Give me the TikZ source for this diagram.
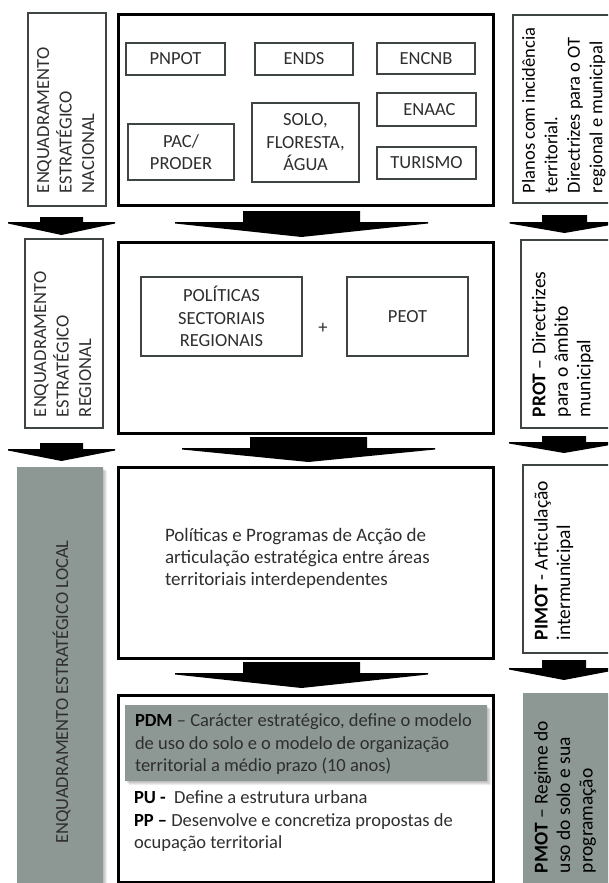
\documentclass[tikz,border=0pt]{standalone}
\usepackage{fontspec}
\setmainfont{Carlito}
\definecolor{ink}{RGB}{46,46,46}
\definecolor{edge}{RGB}{62,68,66}
\definecolor{slate}{RGB}{141,152,149}
% block arrow pointing down: centre x, shaft top, shaft half width, head base, head half width, tip
\newcommand\blockarrow[6]{%
  \fill[black] (#1-#3,#2) -- (#1+#3,#2) -- (#1+#3,#4) -- (#1+#5,#4) -- (#1+#5,#4+1.5)
    -- (#1,#6) -- (#1-#5,#4+1.5) -- (#1-#5,#4) -- (#1-#3,#4) -- cycle;}
% soft shadow to the lower right of a rectangle
\newcommand\softshadow[4]{%
  \foreach \s in {1,...,4}{\fill[black,opacity=0.07] (#1+\s,#2+\s) rectangle (#3+\s,#4+\s);}}
\begin{document}
\begin{tikzpicture}[x=1pt,y=-1pt,
  every node/.style={font=\fontsize{18.5}{22.5}\selectfont, text=ink, inner sep=0pt, outer sep=0pt},
  frame/.style={draw=black, line width=3pt},
  sidebox/.style={draw=edge, line width=1.1pt},
  itembox/.style={draw=edge, line width=1.1pt, align=center},
  shaded/.style={fill=slate, draw=none},
  sidetext/.style={rotate=90, anchor=north west, align=left},
  planttext/.style={sidetext, text=black, font=\fontsize{19.5}{22.5}\selectfont},
  bodytext/.style={anchor=north west, align=left}]
\useasboundingbox (0,0) rectangle (608,883);
\clip (0,0) rectangle (608,883);

% ---------- national level ----------
\node[sidebox, minimum width=78, minimum height=193] (natL) at (67,109.5) {};
\node[sidetext] (natLt) at (37,193) {ENQUADRAMENTO\\ESTRATÉGICO\\NACIONAL};
\node[frame, minimum width=375, minimum height=190] (nat) at (305.5,110) {};
\node[itembox, minimum width=99, minimum height=32] (pnpot) at (175.5,59) {PNPOT};
\node[itembox, minimum width=98, minimum height=32] (ends) at (304,59) {ENDS};
\node[itembox, minimum width=98, minimum height=31] (encnb) at (426,58.5) {ENCNB};
\node[itembox, minimum width=99, minimum height=33] (enaac) at (426.5,109.5) {\hspace{6pt}ENAAC};
\node[itembox, minimum width=99, minimum height=32] (turismo) at (426.5,163) {TURISMO};
\node[itembox, minimum width=106, minimum height=56] (pac) at (181,152) {PAC/\\PRODER};
\node[itembox, minimum width=107, minimum height=79] (solo) at (305.5,142.5) {SOLO,\\FLORESTA,\\ÁGUA};
\node[sidebox, minimum width=99, minimum height=188] (natR) at (562.5,109) {};
\node[sidetext, text=black] (natRt) at (522,193) {Planos com incidência\\territorial.\\Directrizes para o OT\\regional e municipal};

\blockarrow{61.5}{217}{21.5}{222}{53.5}{235}
\blockarrow{301.5}{211}{58.5}{222}{126.5}{237}
\blockarrow{564.5}{215}{22.5}{222}{55}{233}

% ---------- regional level ----------
\node[sidebox, minimum width=78, minimum height=189] (regL) at (64,333.5) {};
\node[sidetext] (regLt) at (34,417) {ENQUADRAMENTO\\ESTRATÉGICO\\REGIONAL};
\node[frame, minimum width=375, minimum height=191] (reg) at (305.5,337.5) {};
\node[itembox, minimum width=161, minimum height=79] (psr) at (221.5,316.5) {POLÍTICAS\\SECTORIAIS\\REGIONAIS};
\node (plus) at (323,328) {+};
\node[itembox, minimum width=121, minimum height=79] (peot) at (407.5,316.5) {PEOT};
\node[sidebox, minimum width=91, minimum height=188] (regR) at (566.5,334) {};
\node[planttext] (regRt) at (532,417) {\textbf{PROT} – Directrizes\\para o âmbito\\municipal};

\blockarrow{61.5}{443}{21.5}{449}{53.5}{461}
\blockarrow{308.5}{437}{58.5}{448}{126.5}{462}
\blockarrow{564}{436}{22}{442}{55}{453}

% ---------- local level ----------
\softshadow{17}{467}{103}{890}
\node[shaded, minimum width=86, minimum height=423] (locL) at (60,678.5) {};
\node[rotate=90, text height=12pt, text depth=0pt] (locLt) at (62,692) {ENQUADRAMENTO ESTRATÉGICO LOCAL};

\node[frame, minimum width=375, minimum height=191] (loc) at (305.5,562.5) {};
\node[bodytext, font=\fontsize{19}{22}\selectfont] (loct) at (165,528) {Políticas e Programas de Acção de\\articulação estratégica entre áreas\\territoriais interdependentes};
\node[sidebox, minimum width=89, minimum height=188] (locR) at (567.5,559) {};
\node[planttext] (locRt) at (534,640) {\textbf{PIMOT} - Articulação\\intermunicipal};

\blockarrow{301.5}{662}{58.5}{673}{126.5}{688}
\blockarrow{564}{660}{22}{668}{55}{680}

% ---------- municipal plans ----------
\node[frame, minimum width=375, minimum height=187] (mun) at (305.5,788.5) {};
\softshadow{125}{705}{487}{781}
\node[shaded, minimum width=362, minimum height=76] (pdm) at (306,743) {};
\node[bodytext] (pdmt) at (135,714) {\textbf{\color{black}PDM} – Carácter estratégico, define o modelo\\de uso do solo e o modelo de organização\\territorial a médio prazo (10 anos)};
\node[bodytext] (pupp) at (134,791) {\textbf{\color{black}PU -}\ \ Define a estrutura urbana\\\textbf{\color{black}PP –} Desenvolve e concretiza propostas de\\ocupação territorial};
\softshadow{523}{693}{612}{890}
\node[shaded, minimum width=89, minimum height=197] (munR) at (567.5,791.5) {};
\node[planttext] (munRt) at (534,873) {\textbf{PMOT} – Regime do\\uso do solo e sua\\programação};
\end{tikzpicture}
\end{document}
